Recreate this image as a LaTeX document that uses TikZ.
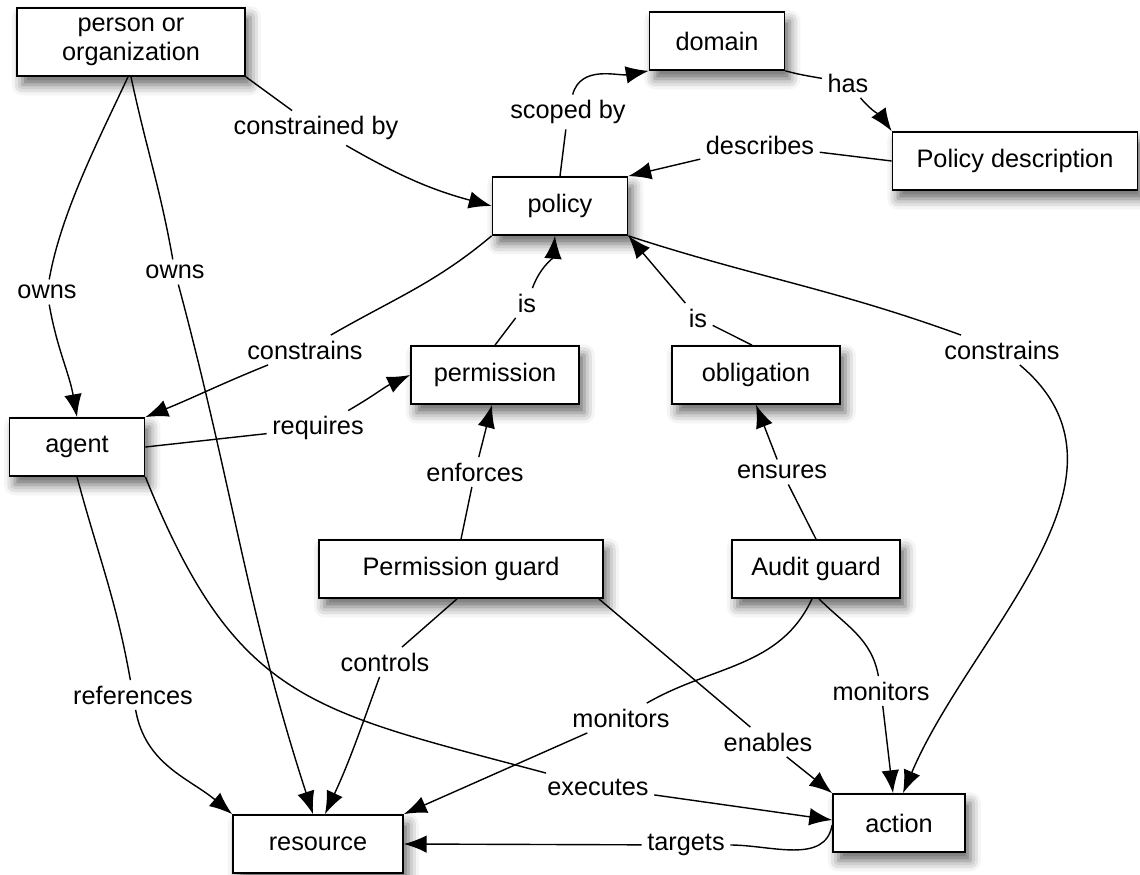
\documentclass[tikz,border=0pt]{standalone}
\usepackage{fontspec}
\setmainfont{Liberation Sans}
\usetikzlibrary{arrows.meta, shadows.blur}

\begin{document}
\begin{tikzpicture}
        [x=0.02cm, y=0.02cm, every node/.style={font=\fontsize{14.4}{16.5}\selectfont},
        box/.style={draw, line width=1pt, fill=white, minimum height=1.16cm, inner sep=2pt,
          blur shadow={shadow xshift=3pt, shadow yshift=-5pt, shadow blur radius=6pt, shadow opacity=60}},
        lbl/.style={fill=white, inner sep=3pt},
        link/.style={line width=0.8pt, black},
        arr/.style={link, -{Latex[length=13pt, width=10pt]}}]

        \useasboundingbox (0,0) rectangle (1140,-875);

        \node[box, minimum width=4.56cm, minimum height=1.36cm, align=center] (person) at (131,-42) {person or\\organization};
        \node[box, minimum width=2.7cm] (domain) at (717,-41) {domain};
        \node[box, minimum width=4.9cm] (pdesc) at (1015,-161) {Policy description};
        \node[box, minimum width=2.7cm] (policy) at (560,-206) {policy};
        \node[box, minimum width=2.7cm] (agent) at (77,-447) {agent};
        \node[box, minimum width=3.36cm] (permission) at (495,-375) {permission};
        \node[box, minimum width=3.36cm] (obligation) at (756,-375) {obligation};
        \node[box, minimum width=5.68cm] (pguard) at (461,-569) {Permission guard};
        \node[box, minimum width=3.36cm] (aguard) at (816,-569) {Audit guard};
        \node[box, minimum width=3.4cm] (resource) at (318,-844) {resource};
        \node[box, minimum width=2.64cm] (action) at (899,-823) {action};

        \node[lbl] (lowns1) at (47,-292) {owns};
        \node[lbl] (lowns2) at (175,-272) {owns};
        \node[lbl] (lconstrby) at (316,-128) {constrained by};
        \node[lbl] (lscoped) at (568,-112) {scoped by};
        \node[lbl] (lhas) at (848,-83) {has};
        \node[lbl] (ldescribes) at (760,-145) {describes};
        \node[lbl] (lconstr1) at (305,-350) {constrains};
        \node[lbl] (lrequires) at (318,-428) {requires};
        \node[lbl] (lis1) at (527,-303) {is};
        \node[lbl] (lis2) at (698,-318) {is};
        \node[lbl] (lconstr2) at (1002,-350) {constrains};
        \node[lbl] (lenforces) at (475,-472) {enforces};
        \node[lbl] (lensures) at (782,-472) {ensures};
        \node[lbl] (lreferences) at (133,-695) {references};
        \node[lbl] (lexecutes) at (598,-787) {executes};
        \node[lbl] (lcontrols) at (385,-662) {controls};
        \node[lbl] (lmonitors1) at (621,-718) {monitors};
        \node[lbl] (lmonitors2) at (881,-691) {monitors};
        \node[lbl] (lenables) at (768,-742) {enables};
        \node[lbl] (ltargets) at (686,-845) {targets};

        \draw[link] ([xshift=-0.06cm]person.south) to[out=-115, in=80, looseness=0.8] (lowns1);
        \draw[arr] (lowns1) to[out=-80, in=100] (agent.north);
        \draw[link] (person.south) to[out=-78, in=100] (lowns2);
        \draw[arr] (lowns2) to[out=-75, in=108] ([xshift=-0.1cm]resource.north);
        \draw[link] (person.south east) -- (lconstrby);
        \draw[arr] (lconstrby) to[out=-30, in=165] (policy.west);
        \draw[link] (policy.north) -- (lscoped);
        \draw[arr] (lscoped) to[out=75, in=190] (domain.south west);
        \draw[link] (domain.south east) to[out=-15, in=170] (lhas);
        \draw[arr] (lhas) to[out=-50, in=125] (pdesc.north west);
        \draw[link] (pdesc.west) -- (ldescribes);
        \draw[arr] (ldescribes) -- (policy.north east);
        \draw[link] (policy.south west) to[out=-140, in=30] (lconstr1);
        \draw[arr] (lconstr1) to[out=-158, in=22] (agent.north east);
        \draw[link] (agent.east) -- (lrequires);
        \draw[arr] (lrequires) to[out=30, in=205] (permission.west);
        \draw[link] (permission.north) -- (lis1);
        \draw[arr] (lis1) to[out=70, in=-95] ([xshift=-0.1cm]policy.south);
        \draw[link] ([xshift=-0.08cm]obligation.north) -- (lis2);
        \draw[arr] (lis2) -- (policy.south east);
        \draw[link] (policy.south east) to[out=-18, in=160] (lconstr2);
        \draw[arr] (lconstr2) to[out=-40, in=67] ([xshift=0.08cm]action.north);
        \draw[link] (pguard.north) -- (lenforces);
        \draw[arr] (lenforces) -- ([xshift=-0.06cm]permission.south);
        \draw[link] (aguard.north) -- (lensures);
        \draw[arr] (lensures) -- (obligation.south);
        \draw[link] (agent.south) to[out=-75, in=100] (lreferences);
        \draw[arr] (lreferences) to[out=-80, in=140] (resource.north west);
        \draw[link] (agent.south east) to[out=-68, in=165, looseness=1.25] (lexecutes);
        \draw[arr] (lexecutes) -- ([yshift=0.06cm]action.west);
        \draw[link] ([xshift=-0.08cm]pguard.south) -- (lcontrols);
        \draw[arr] (lcontrols) to[out=-110, in=65] ([xshift=0.14cm]resource.north);
        \draw[link] ([xshift=-0.08cm]aguard.south) to[out=-115, in=30] (lmonitors1);
        \draw[arr] (lmonitors1) -- (resource.north east);
        \draw[link] ([xshift=0.06cm]aguard.south) to[out=-45, in=100] (lmonitors2);
        \draw[arr] (lmonitors2) -- ([xshift=-0.12cm]action.north);
        \draw[link] ([xshift=-0.1cm]pguard.south east) -- (lenables);
        \draw[arr] (lenables) -- (action.north west);
        \draw[link] ([yshift=-0.04cm]action.west) to[out=-100, in=0] (ltargets);
        \draw[arr] (ltargets) -- (resource.east);

      \end{tikzpicture}
\end{document}
